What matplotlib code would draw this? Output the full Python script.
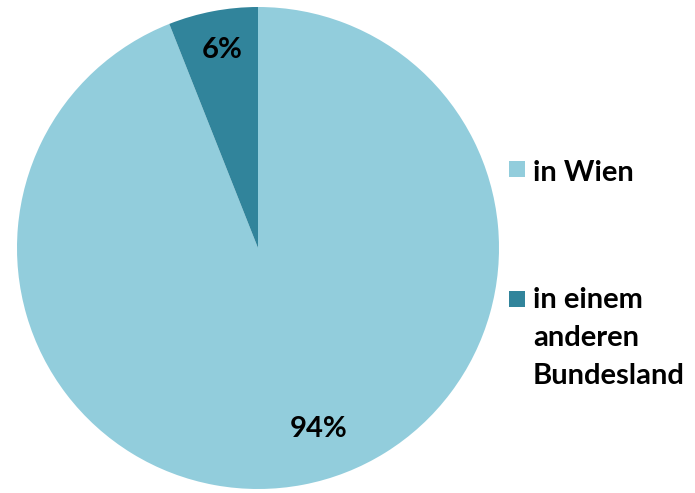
import matplotlib.pyplot as plt
from matplotlib.patches import Rectangle
import numpy as np

# data
labels = ['in Wien', 'in einem\nanderen\nBundesland']
shares = [94, 6]
colors = ['#92CDDC', '#31849B']

W, H = 695, 493
fig = plt.figure(figsize=(W / 100, H / 100), dpi=100)
plt.rcParams['font.family'] = ['Lato', 'DejaVu Sans']

# pie axes: centre (258, 248) px, radius ~241 px
cx, cy, r = 258, 248, 241
ax = fig.add_axes([(cx - r) / W, (H - cy - r) / H, 2 * r / W, 2 * r / H])
wedges, _ = ax.pie(shares, colors=colors, startangle=90, counterclock=False,
                   radius=1, wedgeprops=dict(linewidth=0))
ax.set_xlim(-1, 1)
ax.set_ylim(-1, 1)
ax.set_aspect('equal')
ax.axis('off')

# percentage labels
label_pos = [(0.25, -0.75), (-0.15, 0.82)]
for s, (x, y) in zip(shares, label_pos):
    ax.text(x, y, f'{s}%', ha='center', va='center', fontsize=21,
            fontweight='bold', color='black')

# legend drawn by hand
leg_y = [169, 299]
text_y = [177, 304]
for lab, col, y, ty in zip(labels, colors, leg_y, text_y):
    fig.patches.append(Rectangle((509 / W, (H - y - 8) / H), 16 / W, 16 / H,
                                 transform=fig.transFigure, facecolor=col,
                                 edgecolor='none'))
    fig.text(533 / W, (H - ty + 17) / H, lab, ha='left', va='top', fontsize=21,
             fontweight='bold', linespacing=1.57)

fig.savefig('out.png', dpi=100)
